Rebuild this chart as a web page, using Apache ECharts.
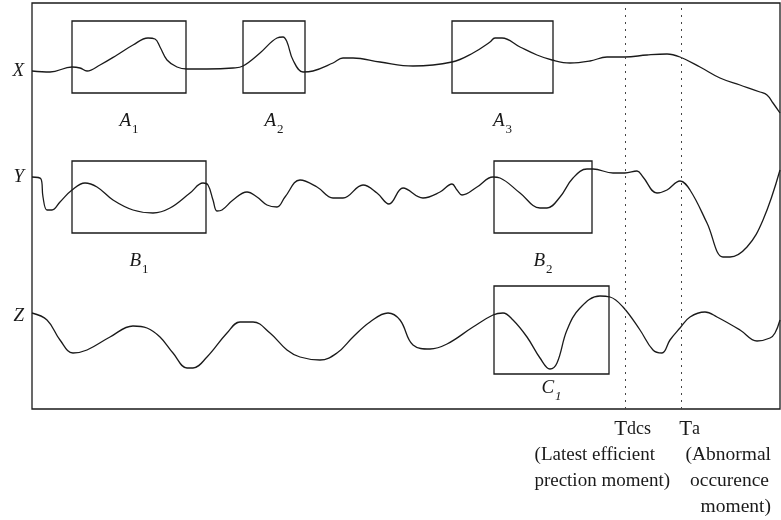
<!DOCTYPE html>
<html><head><meta charset="utf-8">
<script src="https://cdn.jsdelivr.net/npm/echarts@6/dist/echarts.min.js"></script>
<style>html,body{margin:0;padding:0;background:#fff}#c{width:781px;height:520px}</style>
</head><body><div id="c"></div>
<script>
// Signal X
const xT = [0,18,40,48,55,68,85,101,116,123,128,135,145,155,175,201,211,228,245,251,255,261,271,281,301,311,321,348,381,420,441,458,463,470,488,505,520,538,558,575,593,615,635,648,668,688,708,728,735,741,748];
const xV = [338,337,342,341,338,344,354,364,371,370,362,349,342,340,340,341,343,356,371,372,367,349,337,338,346,351,351,347,343,347,356,367,371,371,362,354,349,346,348,352,352,354,355,352,342,331,324,317,314,306,296];
// Signal Y
const yT = [0,9,11,15,20,28,40,53,65,81,101,121,138,158,171,176,181,185,190,201,215,225,235,245,253,268,285,301,311,331,345,357,371,391,408,420,425,430,445,461,468,488,508,515,528,541,555,561,581,593,605,611,625,635,648,658,675,691,698,715,731,748];
const yV = [232,230,212,199,199,207,219,226,222,209,199,196,201,216,226,224,209,198,199,209,217,212,204,202,212,229,222,211,211,224,216,205,221,211,217,225,219,214,222,232,231,216,201,201,212,231,240,240,236,236,238,232,216,219,228,219,186,152,152,162,189,239];
// Signal Z
const zT = [0,15,28,41,55,78,101,115,128,141,155,161,175,195,208,221,238,255,268,288,305,321,338,356,368,381,398,415,441,461,471,481,495,508,518,525,535,548,568,578,591,608,621,630,638,648,658,673,685,708,725,738,743,748];
const zV = [96,89,69,56,59,72,83,81,72,56,41,41,52,76,87,87,76,59,52,49,56,72,87,96,89,64,60,65,82,94,96,89,72,51,40,46,79,101,113,112,102,79,59,56,69,81,92,97,92,79,68,71,76,89];
const seriesNames = ['X','Y','Z'];
// Boxes (letter, index, owning signal, t0, t1, vTop, vBottom)
const boxLetter = ['A','A','A','B','B','C'];
const boxIndex  = ['1','2','3','1','2','1'];
const boxSignal = [0,0,0,1,1,2];
const boxT0 = [40,211,420,40,462,462];
const boxT1 = [154,273,521,174,560,577];
const boxVTop = [388,388,388,248,248,123];
const boxVBot = [316,316,316,176,176,35];
// Event moments
const eventT = [593,649];

const SERIF = '"Liberation Serif","DejaVu Serif",serif';
const INK = '#1a1a1a';

function toData(t, v, name){
  return t.map((tt,i)=> i===0 ? {
    value:[tt, v[i]],
    label:{show:true, position:'left', distance:8, formatter:name,
      fontFamily:SERIF, fontStyle:'italic', fontSize:19, color:INK,
      offset:[0, name==='Z'?3:0]}
  } : [tt, v[i]]);
}
function boxesFor(s){
  const out=[];
  for(let i=0;i<boxLetter.length;i++){
    if(boxSignal[i]!==s) continue;
    const isC = boxLetter[i]==='C';
    out.push([{
      coord:[boxT0[i], boxVTop[i]],
      label:{show:true, position:'bottom', distance: isC?4:18,
        formatter:'{a|'+boxLetter[i]+'}{n|'+boxIndex[i]+'}',
        rich:{
          a:{fontFamily:SERIF, fontStyle:'italic', fontSize:19, color:INK, lineHeight:24, verticalAlign:'top'},
          n:{fontFamily:SERIF, fontStyle: isC?'italic':'normal', fontSize:13, color:INK, lineHeight:18, verticalAlign:'bottom', padding:[0,0,0,1]}
        }}
    },{coord:[boxT1[i], boxVBot[i]]}]);
  }
  return out;
}
const ts = [xT,yT,zT], vs=[xV,yV,zV];
const series = seriesNames.map((nm,s)=>({
  type:'line', name:nm, data:toData(ts[s],vs[s],nm), smooth:0.4,
  showSymbol:true, symbol:'circle', symbolSize:0, silent:true,
  lineStyle:{color:INK, width:1.3}, itemStyle:{color:INK},
  markArea:{silent:true, itemStyle:{color:'rgba(0,0,0,0)', borderColor:INK, borderWidth:1.3},
    data:boxesFor(s)},
  z:3
}));
const txt = (fs, pad)=>({fontFamily:SERIF,fontSize:fs,color:INK,lineHeight:26,padding:pad||[0,0,0,0]});
series.push({
  type:'line', data:[], silent:true,
  markLine:{silent:true, symbol:'none',
    lineStyle:{type:[2,5], color:'#444', width:1},
    data:[
      {xAxis:eventT[0], label:{show:true, position:'start', distance:7, align:'right', offset:[45,0],
        formatter:'{t|T}{s|dcs}\n{l|(Latest efficient}\n{l2|prection moment)}',
        rich:{ t:txt(21), s:txt(18,[0,19,0,0]), l:txt(19,[0,15,0,0]), l2:txt(19) }}},
      {xAxis:eventT[1], label:{show:true, position:'start', distance:7, align:'right', offset:[90,0],
        formatter:'{t|T}{s|a}\n{l|(Abnormal}\n{o|occurence}\n{m|moment)}',
        rich:{ t:txt(21), s:txt(18,[0,71,0,0]), l:txt(19.5), o:txt(19.5,[0,2,0,0]), m:txt(19.5) }}}
    ]}
});

const chart = echarts.init(document.getElementById('c'), null, {renderer:'canvas'});
chart.setOption({
  animation:false,
  backgroundColor:'#fff',
  grid:{left:32, right:1, top:3, bottom:111, show:true, borderColor:INK, borderWidth:1.3, backgroundColor:'transparent'},
  xAxis:{type:'value', min:0, max:748, show:false},
  yAxis:{type:'value', min:0, max:406, show:false},
  series:series
});
</script></body></html>
